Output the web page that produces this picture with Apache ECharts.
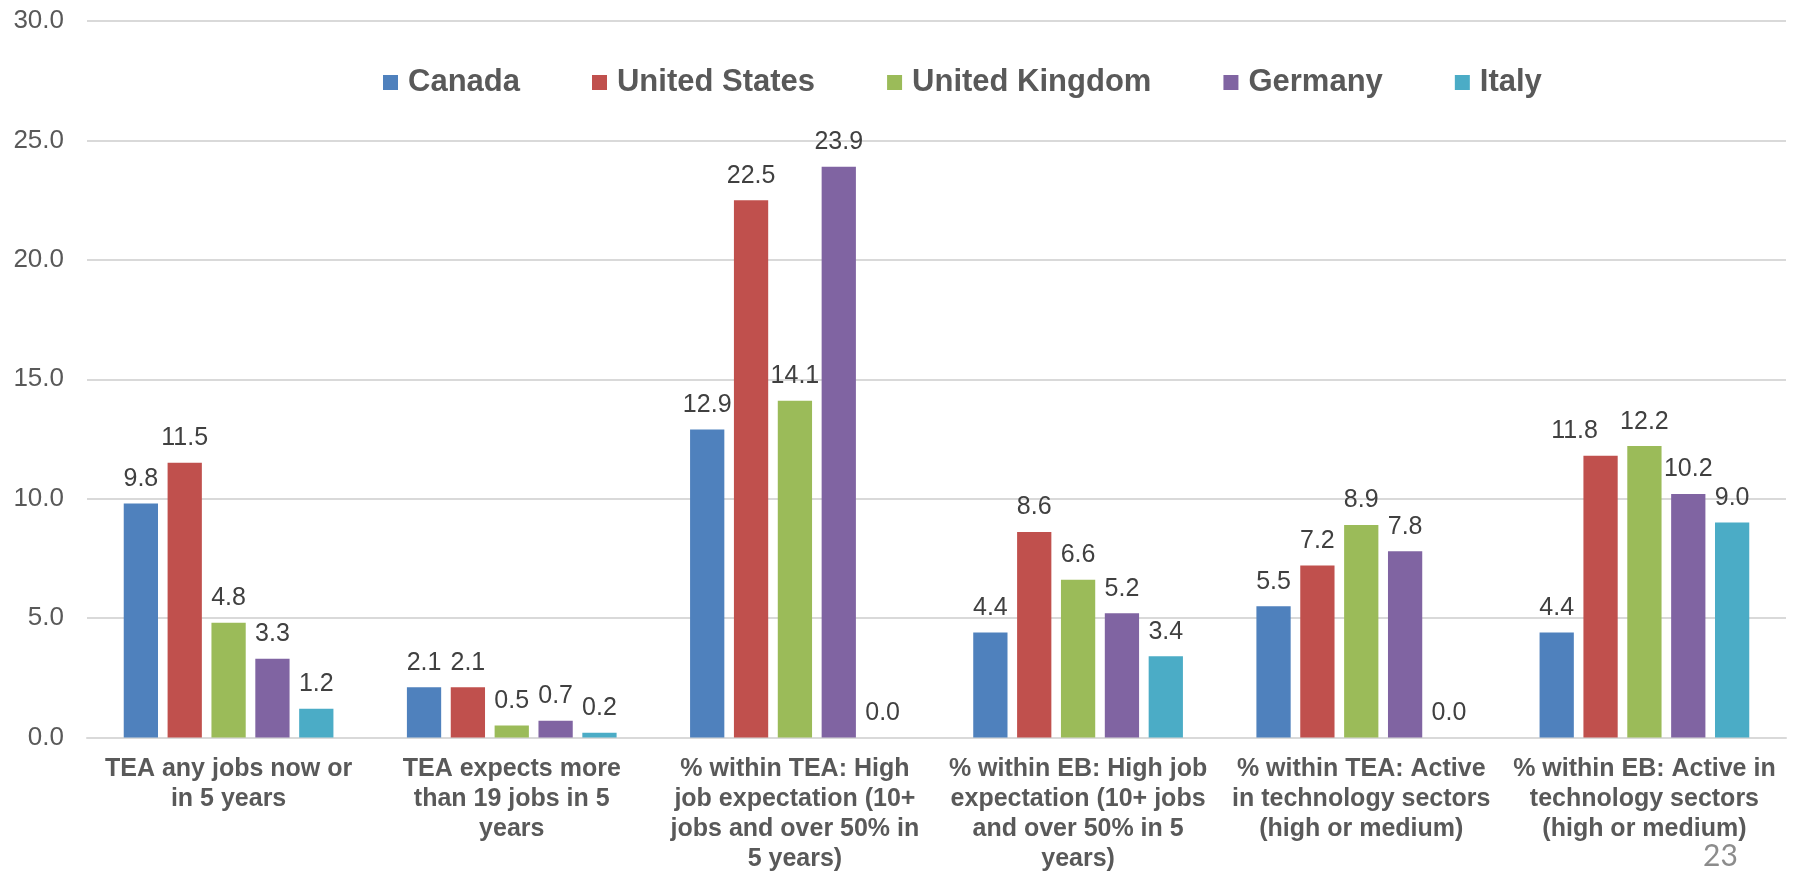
<!DOCTYPE html>
<html>
<head>
<meta charset="utf-8">
<script src="https://cdn.jsdelivr.net/npm/echarts@6/dist/echarts.min.js"></script>
<style>
  html, body { margin: 0; padding: 0; background: #ffffff; }
  #chart { width: 1804px; height: 875px; }
</style>
</head>
<body>
<div id="chart"></div>
<script>
// Job expectations and technology sectors by country (percent)
const categories = [
  'TEA any jobs now or\nin 5 years',
  'TEA expects more\nthan 19 jobs in 5\nyears',
  '% within TEA: High\njob expectation (10+\njobs and over 50% in\n5 years)',
  '% within EB: High job\nexpectation (10+ jobs\nand over 50% in 5\nyears)',
  '% within TEA: Active\nin technology sectors\n(high or medium)',
  '% within EB: Active in\ntechnology sectors\n(high or medium)'
];

const canada        = [9.8, 2.1, 12.9, 4.4, 5.5, 4.4];
const unitedStates  = [11.5, 2.1, 22.5, 8.6, 7.2, 11.8];
const unitedKingdom = [4.8, 0.5, 14.1, 6.6, 8.9, 12.2];
const germany       = [3.3, 0.7, 23.9, 5.2, 7.8, 10.2];
const italy         = [1.2, 0.2, 0.0, 3.4, 0.0, 9.0];

const yTicks = { min: 0, max: 30, interval: 5 };
const pageNumber = '23';

const FONT = '"Liberation Sans", Arial, sans-serif';

const seriesDefs = [
  { name: 'Canada', data: canada, color: '#4F81BD' },
  { name: 'United States', data: unitedStates, color: '#C0504D' },
  { name: 'United Kingdom', data: unitedKingdom, color: '#9BBB59' },
  { name: 'Germany', data: germany, color: '#8064A2' },
  { name: 'Italy', data: italy, color: '#4BACC6' }
];

// labels nudged sideways so neighbouring values don't collide
const labelNudges = { 'United States': { 5: [-26, 0] } };

function toItems(def) {
  const nudges = labelNudges[def.name] || {};
  return def.data.map((v, i) => nudges[i]
    ? { value: v, label: { offset: nudges[i] } }
    : v);
}

const chart = echarts.init(document.getElementById('chart'), null, { renderer: 'canvas' });

chart.setOption({
  animation: false,
  backgroundColor: '#ffffff',
  color: seriesDefs.map(s => s.color),
  grid: { left: 87, right: 18, top: 21, bottom: 137.5, containLabel: false },
  legend: {
    left: 378,
    top: 62,
    itemWidth: 15,
    itemHeight: 15,
    itemGap: 72,
    icon: 'rect',
    textStyle: {
      fontFamily: FONT,
      fontSize: 31,
      fontWeight: 'bold',
      color: '#595959',
      padding: [0, 0, 0, 5]
    },
    data: seriesDefs.map(s => s.name)
  },
  xAxis: {
    type: 'category',
    data: categories,
    axisLine: { lineStyle: { color: '#d9d9d9', width: 2 } },
    axisTick: { show: false },
    axisLabel: {
      interval: 0,
      margin: 17,
      fontFamily: FONT,
      fontSize: 25,
      fontWeight: 'bold',
      lineHeight: 30,
      color: '#595959',
      align: 'center'
    }
  },
  yAxis: {
    type: 'value',
    min: yTicks.min,
    max: yTicks.max,
    interval: yTicks.interval,
    axisLine: { show: false },
    axisTick: { show: false },
    splitLine: { lineStyle: { color: '#d9d9d9', width: 2 } },
    axisLabel: {
      margin: 23,
      fontFamily: FONT,
      fontSize: 26,
      color: '#595959',
      formatter: v => v.toFixed(1)
    }
  },
  series: seriesDefs.map(s => ({
    name: s.name,
    type: 'bar',
    data: toItems(s),
    barWidth: '12.1%',
    barGap: '28%',
    itemStyle: { color: s.color },
    label: {
      show: true,
      position: 'top',
      distance: 12,
      fontFamily: FONT,
      fontSize: 25,
      color: '#404040',
      formatter: p => Number(p.value).toFixed(1)
    }
  })),
  graphic: [{
    type: 'text',
    left: 1703,
    top: 841,
    style: {
      text: pageNumber,
      font: '30px Lato, "Open Sans", sans-serif',
      fill: '#8c8c8c'
    }
  }]
});
</script>
</body>
</html>
